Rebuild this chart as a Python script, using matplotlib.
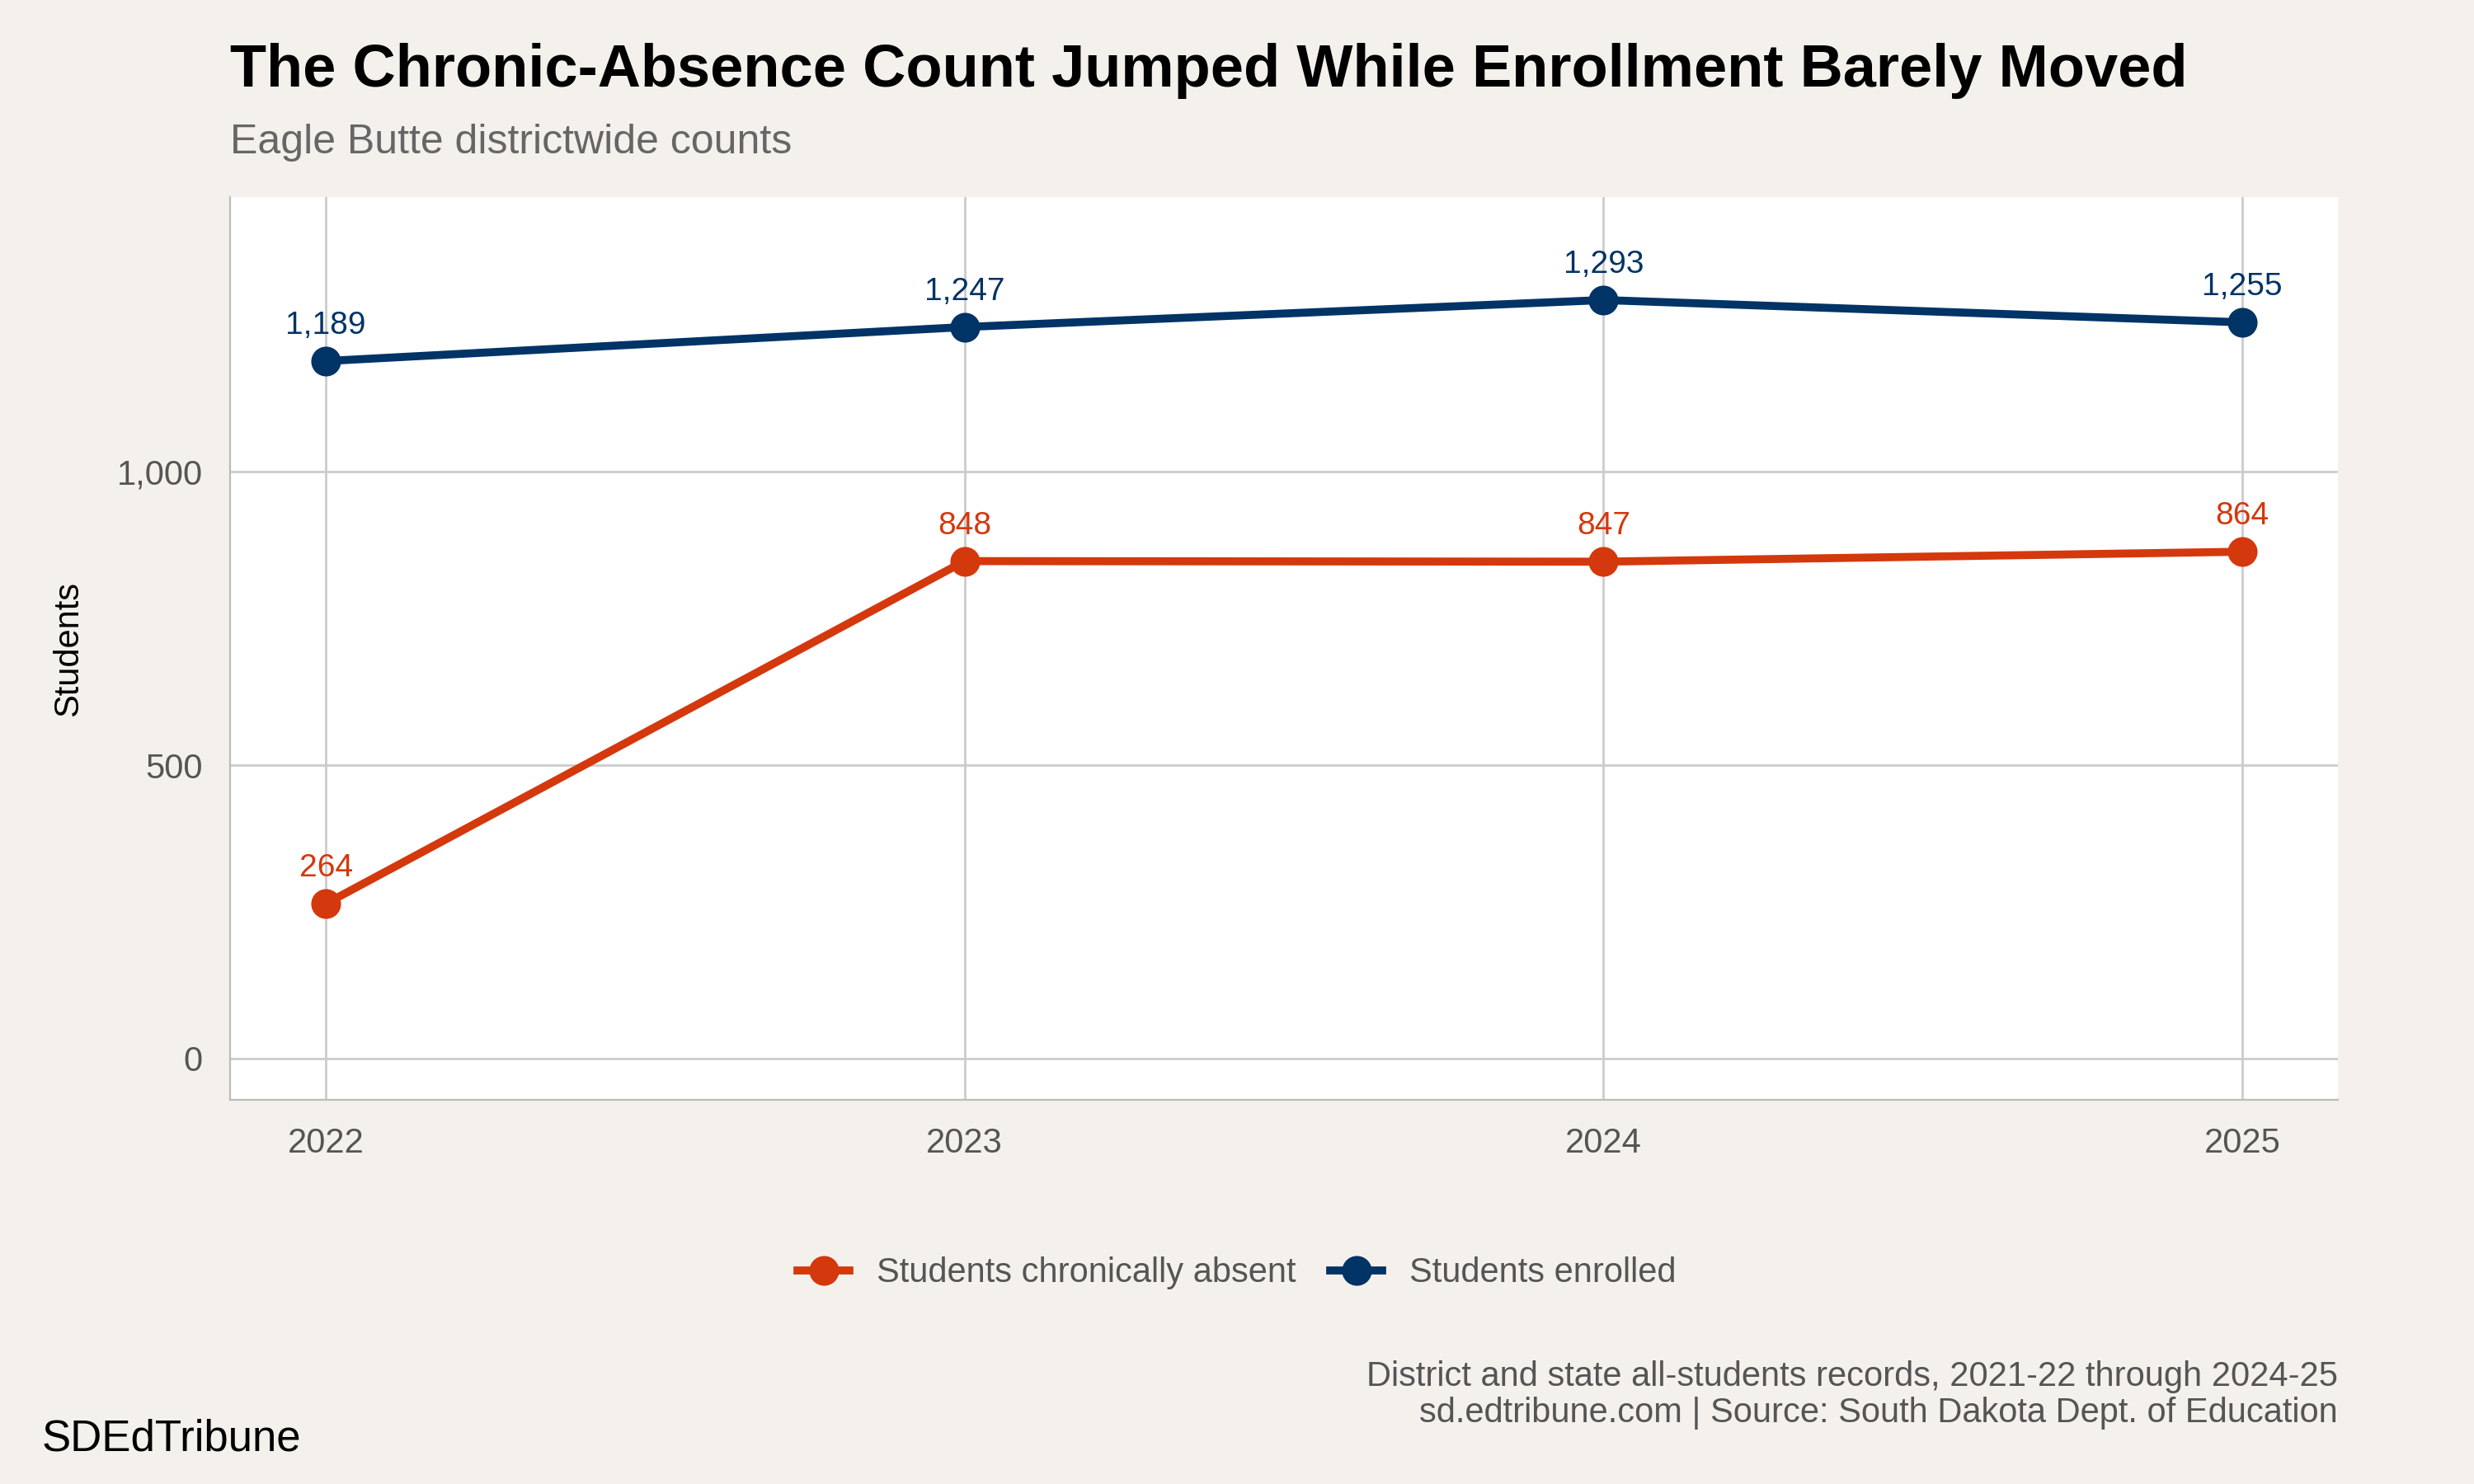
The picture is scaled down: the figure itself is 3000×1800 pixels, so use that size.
import matplotlib
matplotlib.use("Agg")
import matplotlib.pyplot as plt
from matplotlib.ticker import FuncFormatter

plt.rcParams['font.family'] = ['Liberation Sans', 'DejaVu Sans']

years = [2022, 2023, 2024, 2025]
absent = [264, 848, 847, 864]
enrolled = [1189, 1247, 1293, 1255]
yticks = [0, 500, 1000]

bg = '#F4F1EC'
red = '#D4380D'
navy = '#003366'

fig = plt.figure(figsize=(15, 9), dpi=200, facecolor=bg)
ax = fig.add_axes([0.093, 0.259, 0.852, 0.608])
ax.set_facecolor('white')

ax.plot(years, absent, color=red, lw=3.5, marker='o', ms=12, label='Students chronically absent')
ax.plot(years, enrolled, color=navy, lw=3.5, marker='o', ms=12, label='Students enrolled')
for x, y in zip(years, absent):
    ax.annotate(f"{y:,}", (x, y), xytext=(0, 9), textcoords='offset points', ha='center', va='bottom', color=red, fontsize=14)
for x, y in zip(years, enrolled):
    ax.annotate(f"{y:,}", (x, y), xytext=(0, 9), textcoords='offset points', ha='center', va='bottom', color=navy, fontsize=14)

ax.set_xlim(2021.85, 2025.15)
ax.set_ylim(-70, 1468)
ax.set_xticks(years)
ax.set_yticks(yticks)
ax.yaxis.set_major_formatter(FuncFormatter(lambda v, p: f"{int(v):,}"))
ax.grid(True, color='#CCCCCC', lw=1)
ax.set_axisbelow(True)
for s in ['top', 'right']:
    ax.spines[s].set_visible(False)
for s in ['left', 'bottom']:
    ax.spines[s].set_color('#BBBBBB')
ax.tick_params(length=0, labelsize=15, colors='#555555', pad=12)
ax.set_ylabel('Students', fontsize=15, color='black', labelpad=14)

fig.text(0.093, 0.952, 'The Chronic-Absence Count Jumped While Enrollment Barely Moved', fontsize=26, fontweight='bold', va='center')
fig.text(0.093, 0.904, 'Eagle Butte districtwide counts', fontsize=18, color='#666666', va='center')

leg = fig.legend(loc='center', bbox_to_anchor=(0.5, 0.142), ncol=2, frameon=False, fontsize=15,
                 handlelength=1.5, columnspacing=1.0, handletextpad=0.8)
for t in leg.get_texts():
    t.set_color('#555555')

fig.text(0.945, 0.06, 'District and state all-students records, 2021-22 through 2024-25\nsd.edtribune.com | Source: South Dakota Dept. of Education',
         ha='right', va='center', fontsize=15, color='#555555', linespacing=1.1)
fig.text(0.017, 0.03, 'SDEdTribune', fontsize=19, va='center')

fig.savefig('out.png', dpi=200, facecolor=bg)
